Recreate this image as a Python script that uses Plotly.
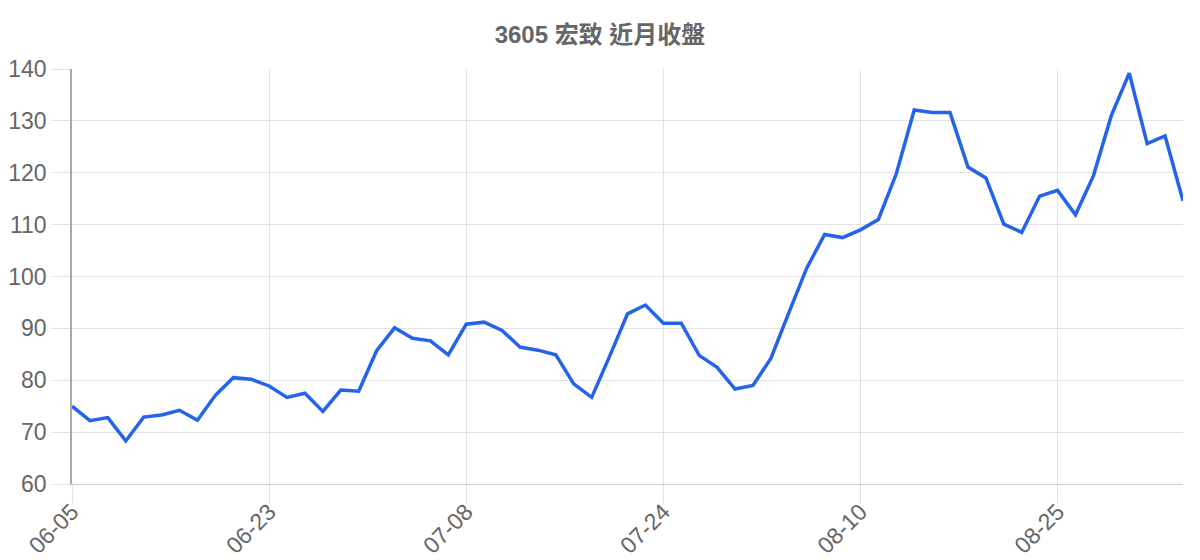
import plotly.graph_objects as go

# ==========================================
# 資料：3605 宏致 近月收盤
# ==========================================
dates = [
    "06-05", "06-06", "06-09", "06-10", "06-11", "06-12", "06-13", "06-16", "06-17", "06-18", "06-19",
    "06-23", "06-24", "06-25", "06-26", "06-27", "06-30", "07-01", "07-02", "07-03", "07-04", "07-07",
    "07-08", "07-09", "07-10", "07-11", "07-14", "07-15", "07-17", "07-18", "07-21", "07-22", "07-23",
    "07-24", "07-25", "07-28", "07-29", "07-30", "07-31", "08-01", "08-04", "08-05", "08-06", "08-07",
    "08-10", "08-11", "08-12", "08-13", "08-14", "08-15", "08-18", "08-19", "08-20", "08-21", "08-22",
    "08-25", "08-26", "08-27", "08-28", "08-29", "09-01", "09-02", "09-03",
]
closes = [
    75.0, 72.2, 72.8, 68.3, 72.9, 73.3, 74.2, 72.3, 77.1, 80.5, 80.2,
    78.9, 76.7, 77.5, 74.0, 78.1, 77.9, 85.7, 90.1, 88.1, 87.6, 84.9,
    90.8, 91.2, 89.6, 86.4, 85.8, 84.9, 79.3, 76.7, 84.6, 92.8, 94.5,
    91.0, 91.0, 84.8, 82.5, 78.3, 79.0, 84.2, 93.0, 101.6, 108.1, 107.5,
    109.0, 111.0, 119.8, 132.1, 131.6, 131.6, 121.1, 119.0, 110.1, 108.5, 115.5,
    116.6, 111.9, 119.4, 131.0, 139.2, 125.6, 127.1, 114.6,
]
tick_labels = dates[::11]

GRID = "#e2e2e2"
TEXT = "#666666"
FONT = "Liberation Sans, Arial, Noto Sans CJK TC"

# 頁面 body 預設有 8px 邊距，圖的尺寸扣掉它
W, H = 1192, 552

fig = go.Figure()
fig.add_trace(go.Scatter(x=dates, y=closes, mode="lines",
                         line=dict(color="#2563eb", width=3.5), name="收盤"))

fig.update_layout(
    width=W, height=H,
    margin=dict(l=64, r=17, t=61, b=76),
    paper_bgcolor="white", plot_bgcolor="white",
    showlegend=False,
    font=dict(family=FONT, color=TEXT),
    title=dict(text="<b>3605 宏致 近月收盤</b>", x=592 / W, xref="container", xanchor="center",
               y=1 - 27 / H, yref="container", yanchor="middle",
               font=dict(size=24, color=TEXT, family=FONT)),
)
fig.update_xaxes(
    type="category", range=[0, len(dates) - 1], automargin=False,
    tickmode="array", tickvals=tick_labels, ticktext=tick_labels,
    tickangle=-45, tickfont=dict(size=23, color=TEXT), ticklabelstandoff=-14,
    showgrid=True, gridcolor=GRID, gridwidth=1.3,
    ticks="outside", ticklen=18, tickcolor=GRID, tickwidth=1.3,
    showline=True, linecolor="#cfcfcf", linewidth=1.3,
    zeroline=False,
)
fig.update_yaxes(
    range=[60, 140], dtick=10, tick0=60, automargin=False,
    tickfont=dict(size=23, color=TEXT),
    showgrid=True, gridcolor=GRID, gridwidth=1.3,
    ticks="outside", ticklen=19, tickcolor=GRID, tickwidth=1.3,
    showline=True, linecolor="#aaaaaa", linewidth=1.5,
    zeroline=False,
)

fig.write_html("out.html")
